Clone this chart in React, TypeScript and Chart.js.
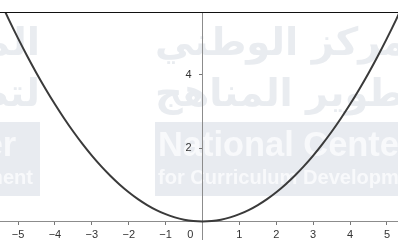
import React, { useEffect, useRef } from "react";
import { Chart, registerables } from "chart.js";

Chart.register(...registerables);

// Curve points (parabola through the origin)
const xValues = [
  -5.5, -5.25, -5, -4.75, -4.5, -4.25, -4, -3.75, -3.5, -3.25, -3, -2.75, -2.5, -2.25, -2, -1.75,
  -1.5, -1.25, -1, -0.75, -0.5, -0.25, 0, 0.25, 0.5, 0.75, 1, 1.25, 1.5, 1.75, 2, 2.25, 2.5, 2.75,
  3, 3.25, 3.5, 3.75, 4, 4.25, 4.5, 4.75, 5, 5.25, 5.5,
];
const yValues = [
  6.05, 5.5125, 5, 4.5125, 4.05, 3.6125, 3.2, 2.8125, 2.45, 2.1125, 1.8, 1.5125, 1.25, 1.0125, 0.8,
  0.6125, 0.45, 0.3125, 0.2, 0.1125, 0.05, 0.0125, 0, 0.0125, 0.05, 0.1125, 0.2, 0.3125, 0.45,
  0.6125, 0.8, 1.0125, 1.25, 1.5125, 1.8, 2.1125, 2.45, 2.8125, 3.2, 3.6125, 4.05, 4.5125, 5,
  5.5125, 6.05,
];
const xTicks = [-5, -4, -3, -2, -1, 0, 1, 2, 3, 4, 5];
const yTicks = [2, 4];
const xRange = [-5.49, 5.3];
const yRange = [-0.505, 5.72];
const watermarkEn = ["National Center", "for Curriculum Development"];
const watermarkAr = ["المركز الوطني", "لتطوير المناهج"];

const watermarkPlugin = {
  id: "watermark",
  beforeDraw(chart: any) {
    const ctx = chart.ctx as CanvasRenderingContext2D;
    ctx.save();
    ctx.fillStyle = "#ffffff";
    ctx.fillRect(0, 0, chart.width, chart.height);
    ctx.textAlign = "left";
    ctx.textBaseline = "alphabetic";
    ctx.font = 'bold 40px "Liberation Sans"';
    const fs1 = (40 * 241) / ctx.measureText(watermarkEn[0].slice(0, 14)).width;
    const fs2 = (40 * 241) / ctx.measureText(watermarkEn[1].slice(0, 23)).width;
    const f1 = `bold ${fs1}px "Liberation Sans"`;
    const f2 = `bold ${fs2}px "Liberation Sans"`;
    ctx.font = f1;
    const w1 = ctx.measureText(watermarkEn[0]).width;
    ctx.font = f2;
    const w2 = ctx.measureText(watermarkEn[1]).width;
    const W = Math.max(w1, w2) + 10;
    const tiles = [155, 40 - W];
    for (const x0 of tiles) {
      ctx.fillStyle = "#e9ecf0";
      watermarkAr.forEach((t, i) => {
        ctx.font = 'bold 40px "DejaVu Sans"';
        const m = ctx.measureText(t).width;
        const fs = Math.min(48, (40 * W) / m);
        ctx.font = `bold ${fs}px "DejaVu Sans"`;
        ctx.fillText(t, x0, [55, 106][i]);
      });
      ctx.fillStyle = "#e8ebf0";
      ctx.fillRect(x0, 122, W, 74);
      ctx.fillStyle = "#f8f9fb";
      ctx.font = f1;
      ctx.fillText(watermarkEn[0], x0 + 3, 156);
      ctx.font = f2;
      ctx.fillText(watermarkEn[1], x0 + 3, 184);
    }
    ctx.restore();
  },
  afterDraw(chart: any) {
    const ctx = chart.ctx as CanvasRenderingContext2D;
    const top = chart.chartArea.top;
    ctx.save();
    ctx.strokeStyle = "#111111";
    ctx.lineWidth = 1;
    ctx.beginPath();
    ctx.moveTo(0, top + 0.5);
    ctx.lineTo(chart.width, top + 0.5);
    ctx.stroke();
    ctx.restore();
  },
};

const fmt = (v: number) => (v < 0 ? "\u2212" + Math.abs(v) : String(v));

export default function App() {
  const ref = useRef<HTMLCanvasElement | null>(null);
  useEffect(() => {
    if (!ref.current) return;
    const data = xValues.map((x, i) => ({ x, y: yValues[i] }));
    const chart = new Chart(ref.current, {
      type: "scatter",
      data: {
        datasets: [
          {
            data,
            showLine: true,
            pointRadius: 0,
            borderColor: "#3a3a3a",
            borderWidth: 2,
            tension: 0.3,
          },
        ],
      },
      options: {
        animation: false,
        responsive: false,
        layout: { padding: { top: 12, left: 0, right: 0, bottom: 0 } },
        plugins: { legend: { display: false }, tooltip: { enabled: false } },
        scales: {
          x: {
            type: "linear",
            min: xRange[0],
            max: xRange[1],
            position: { y: 0 } as any,
            afterBuildTicks: (s: any) => {
              s.ticks = xTicks.map((v) => ({ value: v }));
            },
            afterFit: (s: any) => {
              s.height = 0;
              s.paddingLeft = 0;
              s.paddingRight = 0;
              s.paddingTop = 0;
              s.paddingBottom = 0;
            },
            grid: { drawOnChartArea: false, drawTicks: true, tickLength: 3, color: "#777777" },
            border: { display: true, color: "#8c8c8c", width: 1 },
            ticks: {
              color: "#333333",
              font: { family: "Liberation Sans", size: 11 },
              padding: 4,
              maxRotation: 0,
              autoSkip: false,
              callback: (v: any) => (v === 0 ? "0\u2003\u2003\u2009" : fmt(v)),
            },
          },
          y: {
            type: "linear",
            min: yRange[0],
            max: yRange[1],
            position: { x: 0 } as any,
            afterBuildTicks: (s: any) => {
              s.ticks = yTicks.map((v) => ({ value: v }));
            },
            afterFit: (s: any) => {
              s.width = 0;
              s.paddingLeft = 0;
              s.paddingRight = 0;
              s.paddingTop = 0;
              s.paddingBottom = 0;
            },
            grid: { drawOnChartArea: false, drawTicks: true, tickLength: 3, color: "#777777" },
            border: { display: true, color: "#8c8c8c", width: 1 },
            ticks: {
              color: "#333333",
              font: { family: "Liberation Sans", size: 11 },
              padding: 5,
              autoSkip: false,
              callback: (v: any) => fmt(v) + "\u2002\u2002",
            },
          },
        },
      },
      plugins: [watermarkPlugin],
    });
    return () => chart.destroy();
  }, []);
  return (
    <div style={{ position: "fixed", left: 0, top: 0, width: 398, height: 240 }}>
      <canvas ref={ref} width={398} height={240} style={{ display: "block" }} />
    </div>
  );
}
